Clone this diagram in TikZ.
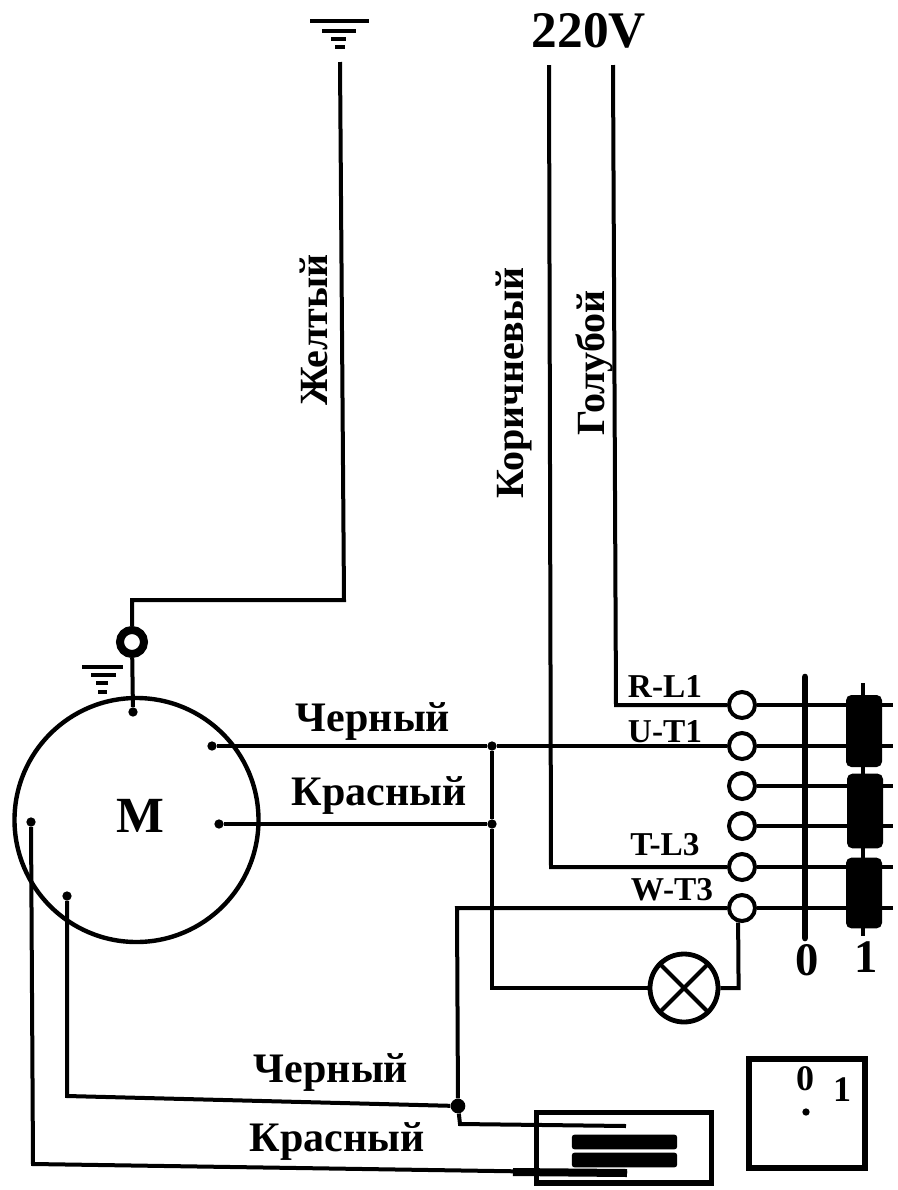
\documentclass[tikz,border=0pt]{standalone}
\usepackage{fontspec}
\setmainfont{Liberation Serif}

\begin{document}
\begin{tikzpicture}[x=0.75pt,y=-0.75pt]
    \tikzset{wire/.style = {line width=3pt, line join=miter}}
    \tikzset{terminal/.style = {circle, draw, line width=3pt, fill=white, minimum size=19.5pt, inner sep=0pt}}
    \tikzset{junction/.style = {circle, fill=black, minimum size=7pt, inner sep=0pt}}
    \tikzset{contact/.style = {rectangle, rounded corners=4pt, fill=black, minimum width=27pt, inner sep=0pt}}
    \tikzset{wirelabel/.style = {font=\bfseries\fontsize{31.5}{31.5}\selectfont, inner sep=0pt}}
    \tikzset{sidelabel/.style = {font=\bfseries\fontsize{30}{30}\selectfont, inner sep=0pt, rotate=90}}
    \tikzset{pinlabel/.style = {font=\bfseries\fontsize{25}{25}\selectfont, inner sep=0pt}}
    \tikzset{ground/.style = {line width=3.2pt}}
    \useasboundingbox (0,0) rectangle (897,1190);

    \node[circle, draw, line width=3.3pt, minimum size=183pt, inner sep=0pt] (Motor) at (136.5,820) {};
    \node[font=\bfseries\fontsize{38}{38}\selectfont, inner sep=0pt] (MotorName) at (140,816) {M};

    \node[junction] (MPe) at (133,712) {};
    \node[junction] (MBlackA) at (212,746) {};
    \node[junction] (MRedA) at (219,824) {};
    \node[junction] (MRedB) at (31,822) {};
    \node[junction] (MBlackB) at (67,896) {};
    \node[junction] (JBlack) at (492,746) {};
    \node[junction] (JRed) at (492,824) {};
    \node[circle, fill=black, minimum size=11pt, inner sep=0pt] (JHeater) at (458,1106) {};

    \node[terminal, line width=6pt, minimum size=18pt] (PeClamp) at (132,642) {};
    \node[terminal] (RLone) at (742,705) {};
    \node[terminal] (UTone) at (742,746) {};
    \node[terminal] (ThreeA) at (742,786) {};
    \node[terminal] (ThreeB) at (742,826) {};
    \node[terminal] (TLthree) at (742,867) {};
    \node[terminal] (WTthree) at (742,908) {};

    \node[circle, draw, line width=3.6pt, minimum size=51pt, inner sep=0pt] (Lamp) at (684,988) {};
    \draw[line width=3pt] (Lamp.45) -- (Lamp.225) (Lamp.135) -- (Lamp.315);

    \coordinate (TopPe) at (340,62);
    \coordinate (TopBrown) at (549,65);
    \coordinate (TopBlue) at (613,65);
    \coordinate (PeCornerA) at (344,600);
    \coordinate (PeCornerB) at (132,600);
    \coordinate (BrownCorner) at (551,867);
    \coordinate (BlueCorner) at (616,705);
    \coordinate (WCorner) at (457,908);
    \coordinate (LampCornerA) at (492,988);
    \coordinate (LampCornerB) at (738.6,988);
    \coordinate (BlackCorner) at (67,1096);
    \coordinate (RedCorner) at (33,1164);
    \coordinate (HeaterCorner) at (460,1124);
    \coordinate (HeaterEndA) at (626,1126);
    \coordinate (HeaterEndB) at (627,1173);
    \coordinate (HeaterThick) at (513,1172);

    \draw[wire] (TopPe) -- (PeCornerA) -- (PeCornerB) -- (PeClamp);
    \draw[wire] (PeClamp) -- (MPe);
    \draw[wire] (TopBrown) -- (BrownCorner) -- (TLthree);
    \draw[wire] (TopBlue) -- (BlueCorner) -- (RLone);
    \draw[wire] (MBlackA) -- (JBlack) -- (UTone);
    \draw[wire] (MRedA) -- (JRed);
    \draw[wire] (JBlack) -- (JRed) -- (LampCornerA) -- (Lamp);
    \draw[wire] (Lamp) -- (LampCornerB) -- (WTthree.255);
    \draw[wire] (WTthree) -- (WCorner) -- (JHeater);
    \draw[wire] (MBlackB) -- (BlackCorner) -- (JHeater);
    \draw[wire] (JHeater) -- (HeaterCorner) -- (HeaterEndA);
    \draw[wire] (MRedB) -- (RedCorner) -- (HeaterEndB);
    \draw[line width=6pt] (HeaterThick) -- (HeaterEndB);

    \node[draw, line width=4pt, minimum width=131pt, minimum height=53pt, inner sep=0pt] (Heater) at (624,1147.5) {};
    \node[rectangle, rounded corners=2pt, fill=black, minimum width=79pt, minimum height=11pt, inner sep=0pt] (HeatBarA) at (624.5,1142) {};
    \node[rectangle, rounded corners=2pt, fill=black, minimum width=79pt, minimum height=11pt, inner sep=0pt] (HeatBarB) at (624.5,1160) {};

    \node[draw, line width=4.5pt, minimum width=87pt, minimum height=82pt, inner sep=0pt] (Dial) at (807,1113.5) {};
    \node[font=\bfseries\fontsize{27}{27}\selectfont, inner sep=0pt] (DialZero) at (805,1079) {0};
    \node[font=\bfseries\fontsize{27}{27}\selectfont, inner sep=0pt] (DialOne) at (842,1090) {1};
    \node[junction, minimum size=5.5pt] (DialDot) at (806,1112) {};

    \coordinate (BarZeroTop) at (805,677);
    \coordinate (BarZeroEnd) at (805,938);
    \coordinate (BarOneTop) at (863,683);
    \coordinate (BarOneEnd) at (863,936);
    \coordinate (OutA) at (893,705);
    \coordinate (OutB) at (893,746);
    \coordinate (OutC) at (893,786);
    \coordinate (OutD) at (893,826);
    \coordinate (OutE) at (893,867);
    \coordinate (OutF) at (893,908);

    \draw[wire] (RLone) -- (OutA);
    \draw[wire] (UTone) -- (OutB);
    \draw[wire] (ThreeA) -- (OutC);
    \draw[wire] (ThreeB) -- (OutD);
    \draw[wire] (TLthree) -- (OutE);
    \draw[wire] (WTthree) -- (OutF);
    \draw[wire] (BarOneTop) -- (BarOneEnd);
    \draw[line width=5pt, line cap=round] (BarZeroTop) -- (BarZeroEnd);

    \node[contact, minimum height=54pt] (ContactA) at (864,731) {};
    \node[contact, minimum height=56pt] (ContactB) at (865,811) {};
    \node[contact, minimum height=53pt] (ContactC) at (864,893) {};

    \node[font=\bfseries\fontsize{35}{35}\selectfont, inner sep=0pt] (SwitchZero) at (807,960) {0};
    \node[font=\bfseries\fontsize{35}{35}\selectfont, inner sep=0pt] (SwitchOne) at (866,957) {1};

    \node[font=\bfseries\fontsize{38.5}{38.5}\selectfont, inner sep=0pt] (Mains) at (589,31) {220V};

    \node[sidelabel] (Yellow) at (314,330) {Желтый};
    \node[sidelabel] (Brown) at (514,383) {Коричневый};
    \node[sidelabel] (Blue) at (594,363) {Голубой};
    \node[wirelabel] (BlackUp) at (373,722) {Черный};
    \node[wirelabel] (RedUp) at (379,796) {Красный};
    \node[wirelabel] (BlackDown) at (331,1072) {Черный};
    \node[wirelabel] (RedDown) at (337,1141) {Красный};

    \node[pinlabel] (LabelRLone) at (665,686) {R-L1};
    \node[pinlabel] (LabelUTone) at (665,732) {U-T1};
    \node[pinlabel] (LabelTLthree) at (665,845) {T-L3};
    \node[pinlabel] (LabelWTthree) at (672,890) {W-T3};

    \draw[ground] (310,21) -- (369,21);
    \draw[ground] (322,31) -- (356,31);
    \draw[ground] (331,39) -- (346,39);
    \draw[ground] (335,47) -- (345,47);

    \draw[ground] (82,667) -- (123,667);
    \draw[ground] (91,675) -- (116,675);
    \draw[ground] (96,683) -- (108,683);
    \draw[ground] (98,692) -- (107,692);
\end{tikzpicture}
\end{document}
